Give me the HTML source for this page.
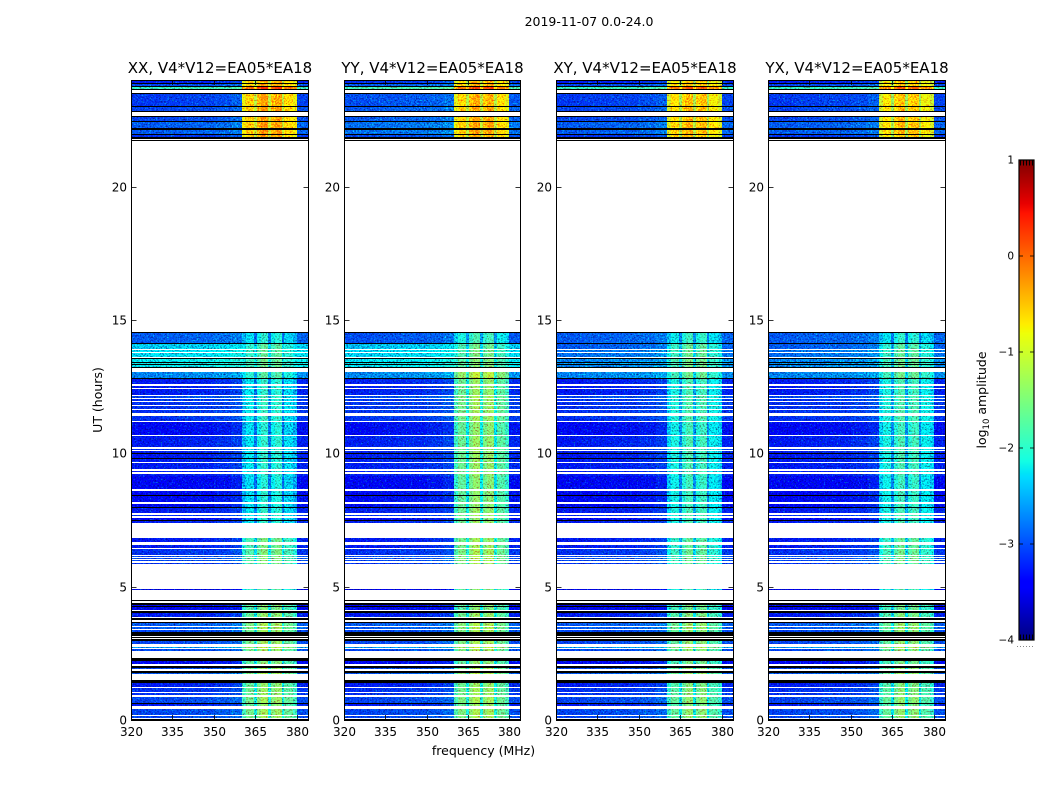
<!DOCTYPE html>
<html>
<head>
<meta charset="utf-8">
<title>2019-11-07 0.0-24.0</title>
<style>
html,body{margin:0;padding:0;background:#fff;width:1050px;height:800px;overflow:hidden}
svg{display:block}
text{font-family:"DejaVu Sans","Liberation Sans",sans-serif;fill:#000}
</style>
</head>
<body>
<svg id="chart" xmlns="http://www.w3.org/2000/svg" width="1050" height="800" viewBox="0 0 1050 800">
  <defs>
    <filter id="grain" filterUnits="userSpaceOnUse" x="120" y="70" width="840" height="660" color-interpolation-filters="sRGB">
      <feTurbulence type="fractalNoise" baseFrequency="0.62" numOctaves="2" seed="7" result="noise"/>
      <feColorMatrix in="noise" type="matrix" values="0 0 0 0 0.5  1.8 0 0 0 -0.4  1.2 0 0 0 -0.1  0 0 0 0 1" result="gray"/>
      <feComposite in="SourceGraphic" in2="gray" operator="arithmetic" k1="1.2" k2="0.4" k3="0" k4="0" result="shaded"/>
      <feColorMatrix in="noise" type="matrix" values="0 0 0 0 0  0 1.8 0 0 -1.02  0 0 0 0 0  0 0 0 0 1" result="specks"/>
      <feComposite in="specks" in2="SourceAlpha" operator="in" result="clipped"/>
      <feComposite in="shaded" in2="clipped" operator="arithmetic" k1="0" k2="1" k3="1" k4="0"/>
    </filter>
  </defs>
  <rect x="0" y="0" width="1050" height="800" fill="#fff"/>
  <text x="589" y="26" font-size="12.5" text-anchor="middle">2019-11-07 0.0-24.0</text>
  <text transform="translate(102,400) rotate(-90)" font-size="12.5" text-anchor="middle">UT (hours)</text>
  <text x="483.5" y="755" font-size="12.5" text-anchor="middle">frequency (MHz)</text>
  <text transform="translate(986,400) rotate(-90)" font-size="12.5" text-anchor="middle">log<tspan font-size="8.5" dy="3">10</tspan><tspan dy="-3"> amplitude</tspan></text>
  <g id="panels"></g>
  <g id="colorbar"></g>
</svg>
<script>
// Panel titles
const panelTitles = ["XX, V4*V12=EA05*EA18", "YY, V4*V12=EA05*EA18", "XY, V4*V12=EA05*EA18", "YX, V4*V12=EA05*EA18"];
const polKeys = ["XX", "YY", "XY", "YX"];
// Axis ticks
const freqTicks = [320, 335, 350, 365, 380];
const timeTicks = [0, 5, 10, 15, 20];
const colorbarTicks = [1, 0, -1, -2, -3, -4];
// Time rows (hours): edges and per-row baseline log10 amplitude. null = flagged (white), -9 = below range (black)
const rowEdges = [0,.038,.075,.135,.188,.402,.526,.601,.650,.875,.928,1.025,1.063,1.202,1.239,1.401,1.502,1.728,1.777,1.840,1.916,1.953,2.028,2.092,2.216,2.329,2.592,2.655,2.693,2.753,2.843,2.979,3.031,3.069,3.106,3.166,3.317,3.380,3.418,3.504,3.542,3.632,3.692,3.756,3.820,3.880,4.030,4.094,4.132,4.256,4.293,4.331,4.406,4.470,4.507,4.894,4.920,5.833,5.886,5.972,5.998,6.036,6.058,6.111,6.149,6.186,6.411,6.449,6.573,6.659,6.825,7.388,7.474,7.512,7.576,7.636,7.700,7.764,7.936,7.974,8.102,8.162,8.413,8.451,8.601,8.665,9.138,9.165,9.240,9.315,9.352,9.416,9.642,9.690,9.777,9.814,9.972,10.010,10.077,10.115,10.179,10.254,10.648,10.705,11.174,11.204,11.392,11.531,11.625,11.662,11.768,11.813,11.925,11.963,12.045,12.083,12.132,12.188,12.395,12.432,12.534,12.583,12.797,12.834,13.060,13.184,13.232,13.307,13.334,13.401,13.435,13.522,13.570,13.623,13.773,13.796,13.871,13.923,14.085,14.149,14.498,14.562,21.721,21.758,21.796,21.849,21.935,21.973,22.112,22.187,22.435,22.473,22.612,22.660,22.811,22.848,22.987,23.024,23.475,23.513,23.637,23.663,23.764,23.787,23.850,23.876,23.951,24];
const rowLevels = [-9,null,-3.1,null,-3.1,null,-3.3,-9,-3.1,null,-3.2,null,-3.2,null,-3.3,-9,null,-3,-9,null,-3.1,-9,null,-3.4,-9,null,-3.1,null,-2.7,null,-3.1,-9,null,-9,null,-9,-3.1,null,-3,null,-3,-9,null,-9,null,-3.3,-9,null,-3.5,-9,-3.4,-9,null,-9,null,-3.6,null,-3.2,null,-3.1,null,-3.1,null,-3.1,null,-3.2,null,-3.3,null,-3.3,null,-3.3,-9,-3.4,null,-3.2,null,-3.3,-9,-3.4,null,-3.4,-9,-3.4,null,-3.45,null,-3.3,null,-3.3,null,-3.3,null,-3.3,-9,-3.3,-9,-3.3,null,-3.2,null,-3.3,null,-3.4,null,-3.2,null,-3.2,null,-3.2,null,-3.2,null,-3.2,null,-3.1,null,-3.3,null,-3.3,null,-3.3,-9,-2.8,null,-9,-2.25,-9,-2.2,-9,-2.25,-9,null,-2.35,null,-2.35,null,-2.45,-9,-3,-9,null,-9,null,-9,-3.2,-9,-3,-9,-3,-9,-3.1,-9,null,-9,-3.1,-9,-3.15,-9,null,-9,-1.95,-9,-3.1,-9,-3.3,-9];
// Observing epochs (hours) and per-epoch RFI peak level / background offset
const epochEdges = [0, 4.6, 7, 13.1, 14.1, 14.5, 21.7, 24];
const rfiLevelXX = [-1.6, -1.75, -2.2, -2.35, -2.4, -9, -0.55];
const rfiLevelYY = [-1.55, -1.5, -1.55, -2.2, -2.2, -9, -0.6];
const rfiLevelXY = [-1.7, -1.9, -2.05, -2.3, -2.3, -9, -0.7];
const rfiLevelYX = [-1.7, -1.85, -2.05, -2.35, -2.35, -9, -0.75];
const bgOffsetXX = [0, 0, 0, 0, 0, 0, 0];
const bgOffsetYY = [0, 0, 0.03, -0.05, -0.05, 0, 0.1];
const bgOffsetXY = [0, 0, 0, -0.55, 0, 0, 0];
const bgOffsetYX = [0, 0, 0, -0.55, 0, 0, 0];
// Frequency bands (MHz) with background slope and RFI spectral shape (log10 relative to peak level)
const freqEdges = [320,330,340,350,356,360,361.5,364.5,365.5,367,369.5,370.5,372,374.5,375.5,377,378.5,380,384];
const bgSlope = [0,0.03,0.05,0.1,0.18,0.1,0.1,0.1,0.1,0.1,0.1,0.1,0.1,0.1,0.1,0.1,0.1,0.05];
const rfiShape = [-9,-9,-9,-9,-9,-0.3,0,-0.6,0.1,0.3,-0.55,0.1,0.25,-0.6,-0.1,-0.1,-0.3,-9];
const rfiShapes = {XX: rfiLevelXX, YY: rfiLevelYY, XY: rfiLevelXY, YX: rfiLevelYX};
const bgOffsets = {XX: bgOffsetXX, YY: bgOffsetYY, XY: bgOffsetXY, YX: bgOffsetYX};

const NS = "http://www.w3.org/2000/svg";
const panelLefts = [131.5, 344.5, 556.5, 768.5];
const panelRights = [308.5, 520.5, 733.5, 945.5];
const plotTop = 80, plotBottom = 720;
const xScale = (p, mhz) => panelLefts[p] + (mhz - 320) / 64 * (panelRights[p] - panelLefts[p]);
const yScale = h => plotBottom - h / 24 * (plotBottom - plotTop);
function make(tag, attrs, parent) {
  const el = document.createElementNS(NS, tag);
  for (const k in attrs) el.setAttribute(k, attrs[k]);
  parent.appendChild(el);
  return el;
}
function jet(v) {
  let t = Math.max(0, Math.min(1, (v + 4) / 5));
  const lerp = pts => {
    for (let i = 1; i < pts.length; i++) {
      if (t <= pts[i][0]) {
        const a = pts[i - 1], b = pts[i];
        return a[1] + (b[1] - a[1]) * (t - a[0]) / (b[0] - a[0]);
      }
    }
    return pts[pts.length - 1][1];
  };
  const r = lerp([[0,0],[.35,0],[.66,1],[.89,1],[1,.5]]);
  const g = lerp([[0,0],[.125,0],[.375,1],[.64,1],[.91,0],[1,0]]);
  const b = lerp([[0,.5],[.11,1],[.34,1],[.65,0],[1,0]]);
  return "rgb(" + Math.round(r * 255) + "," + Math.round(g * 255) + "," + Math.round(b * 255) + ")";
}
function epochIndex(h) {
  for (let i = epochEdges.length - 2; i >= 0; i--) if (h >= epochEdges[i]) return i;
  return 0;
}
const panelsRoot = document.getElementById("panels");
panelTitles.forEach((title, p) => {
  const left = panelLefts[p], right = panelRights[p], key = polKeys[p];
  const g = make("g", {}, panelsRoot);
  
  
  const cells = make("g", {filter: "url(#grain)", "shape-rendering": "crispEdges"}, g);
  
  
  const bars = make("g", {"shape-rendering": "crispEdges"}, g);
  
  
  rowLevels.forEach((level, r) => {
    if (level === null) return;
    const h0 = rowEdges[r], h1 = rowEdges[r + 1];
    const y0 = Math.round(yScale(h1));
    const y1 = Math.max(Math.round(yScale(h0)), y0 + 1);
    const ep = epochIndex((h0 + h1) / 2);
    if (level === -9) {
      const bar = make("rect", {x: Math.floor(left), y: y0, width: Math.floor(right) - Math.floor(left), height: y1 - y0, fill: "#000"}, bars);
      
      
      return;
    }
    const base = level + bgOffsets[key][ep];
    const peak = rfiShapes[key][ep] + (level + 3.2) * 0.5;
    rfiShape.forEach((shape, c) => {
      const v = Math.max(base + bgSlope[c], peak + shape);
      const x0 = Math.floor(xScale(p, freqEdges[c])), x1 = Math.floor(xScale(p, freqEdges[c + 1]));
      const cell = make("rect", {x: x0, y: y0, width: x1 - x0, height: y1 - y0, fill: jet(v)}, cells);
      
      
    });
  });
  const frame = make("rect", {x: left, y: plotTop + 0.5, width: right - left, height: plotBottom - plotTop, fill: "none", stroke: "#000", "stroke-width": 1}, g);
  
  
  const t = make("text", {x: (left + right) / 2, y: 73, "font-size": 15, "text-anchor": "middle"}, g);
  
  
  t.textContent = title;
  freqTicks.forEach(f => {
    const x = Math.floor(xScale(p, f)) + 0.5;
    [[plotBottom, plotBottom - 5], [plotTop, plotTop + 5]].forEach(pair => {
      const tick = make("line", {x1: x, x2: x, y1: pair[0], y2: pair[1], stroke: "#000", "stroke-width": 0.8}, g);
      
      
    });
    const lab = make("text", {x: x, y: 736, "font-size": 12, "text-anchor": "middle"}, g);
    
    
    lab.textContent = f;
  });
  timeTicks.forEach(h => {
    const y = Math.round(yScale(h)) + 0.5;
    [[left, left + 5], [right, right - 5]].forEach(pair => {
      const tick = make("line", {x1: pair[0], x2: pair[1], y1: y, y2: y, stroke: "#000", "stroke-width": 0.8}, g);
      
      
    });
    const lab = make("text", {x: left - 4.5, y: y + 4, "font-size": 12, "text-anchor": "end"}, g);
    
    
    lab.textContent = h;
  });
});
// Colorbar
const cb = document.getElementById("colorbar");
const cbLeft = 1019, cbRight = 1034, cbTop = 160, cbBottom = 640;
const cbY = v => cbBottom - (v + 4) / 5 * (cbBottom - cbTop);
const cbCells = make("g", {"shape-rendering": "crispEdges"}, cb);


for (let i = 0; i < 240; i++) {
  const v0 = -4 + i * 5 / 240, v1 = v0 + 5 / 240;
  make("rect", {x: cbLeft, y: cbY(v1), width: cbRight - cbLeft, height: cbY(v0) - cbY(v1) + 0.6, fill: jet(v0 + 2.5 / 240)}, cbCells);
}
const cbFrame = make("rect", {x: cbLeft, y: cbTop, width: cbRight - cbLeft, height: cbBottom - cbTop, fill: "none", stroke: "#000", "stroke-width": 1.2}, cb);


colorbarTicks.forEach(v => {
  const y = cbY(v);
  [[cbLeft, cbLeft + 4], [cbRight, cbRight - 4]].forEach(pair => {
    const tick = make("line", {x1: pair[0], x2: pair[1], y1: y, y2: y, stroke: "#000", "stroke-width": 0.8}, cb);
    
    
  });
  const lab = make("text", {x: 1014, y: y + 3.5, "font-size": 10.5, "text-anchor": "end"}, cb);
  
  
  lab.textContent = String(v).replace("-", "\u2212");
});
const topMinor = make("line", {x1: cbLeft + 1, x2: cbRight - 1, y1: cbTop + 3, y2: cbTop + 3, stroke: "#000", "stroke-width": 5, "stroke-dasharray": "1 2"}, cb);


const botMinor = make("line", {x1: cbLeft + 1, x2: cbRight - 1, y1: cbBottom - 3, y2: cbBottom - 3, stroke: "#000", "stroke-width": 5, "stroke-dasharray": "1 2"}, cb);


const dots = make("line", {x1: 1017, x2: 1035, y1: 646.5, y2: 646.5, stroke: "#888", "stroke-width": 1, "stroke-dasharray": "1 2"}, cb);


</script>
</body>
</html>
